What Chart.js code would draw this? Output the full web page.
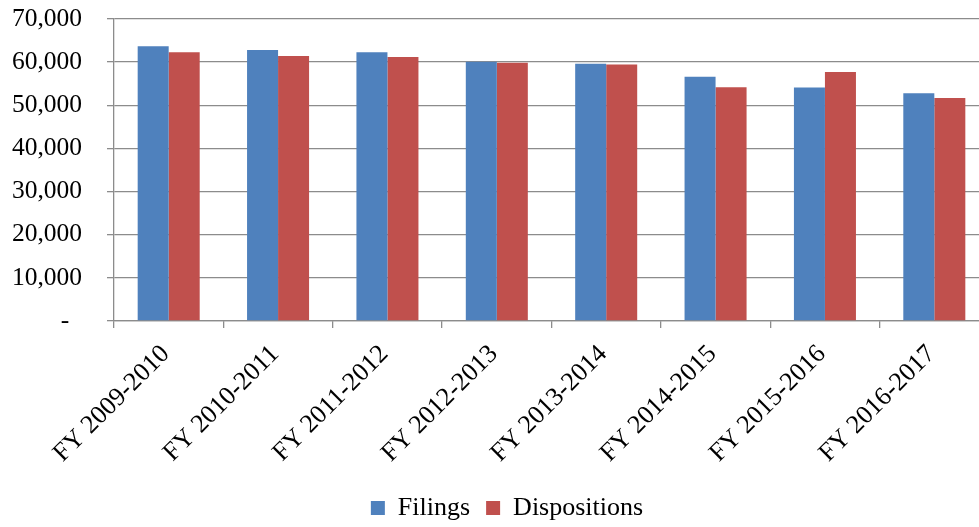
<!DOCTYPE html>
<html>
<head>
<meta charset="utf-8">
<script src="https://cdn.jsdelivr.net/npm/chart.js@4.4.1/dist/chart.umd.min.js"></script>
<style>
  html, body { margin: 0; padding: 0; background: #fff; overflow: hidden; }
  .wrap { width: 1004px; height: 527px; position: relative; }
</style>
</head>
<body>
<div class="wrap"><canvas id="chart"></canvas></div>
<script>
const categories = ["FY 2009-2010", "FY 2010-2011", "FY 2011-2012", "FY 2012-2013",
                    "FY 2013-2014", "FY 2014-2015", "FY 2015-2016", "FY 2016-2017"];
const filings = [63700, 62800, 62300, 60100, 59600, 56600, 54100, 52800];
const dispositions = [62300, 61400, 61200, 59850, 59450, 54200, 57700, 51700];
const yTicks = [0, 10000, 20000, 30000, 40000, 50000, 60000, 70000];

const font = { family: "'Liberation Serif', 'Times New Roman', serif", size: 26 };
const gridColor = "#8c8c8c";

Chart.defaults.font.family = font.family;
Chart.defaults.color = "#000";

const ctx = document.getElementById("chart").getContext("2d");

new Chart(ctx, {
    type: "bar",
    data: {
        labels: categories,
        datasets: [
            { label: "Filings", data: filings, backgroundColor: "#4f81bd" },
            { label: "Dispositions", data: dispositions, backgroundColor: "#c0504d" }
        ]
    },
    options: {
        responsive: true,
        maintainAspectRatio: false,
        animation: false,
        categoryPercentage: 0.567,
        barPercentage: 1,
        layout: { padding: { top: 19, right: 0, left: 10, bottom: -4 } },
        scales: {
            y: {
                min: 0,
                max: 70000,
                afterBuildTicks: scale => {
                    scale.ticks = yTicks.map(v => ({ value: v }));
                },
                afterFit: scale => {
                    scale.width = 104;
                    scale.paddingTop = 0;
                    scale.paddingBottom = 0;
                },
                ticks: {
                    font: { family: font.family, size: 25.5 },
                    padding: 25,
                    callback: v => v == 0 ? "-  " : v.toLocaleString("en-US")
                },
                grid: { color: gridColor, lineWidth: 1.3, tickLength: 7 },
                border: { color: gridColor, width: 1.3 }
            },
            x: {
                afterFit: scale => {
                    scale.height = 158;
                    // plot runs past the right edge of the picture, like the original crop
                    scale.paddingRight = 15;
                },
                ticks: { font, minRotation: 45, maxRotation: 45, padding: 11, labelOffset: -3 },
                grid: { drawOnChartArea: false, color: gridColor, lineWidth: 1.3, tickLength: 7 },
                border: { color: gridColor, width: 1.3 }
            }
        },
        plugins: {
            legend: {
                position: "bottom",
                labels: { font, boxWidth: 14, boxHeight: 14, padding: 16 }
            },
            tooltip: { enabled: false }
        }
    }
});
</script>
</body>
</html>
